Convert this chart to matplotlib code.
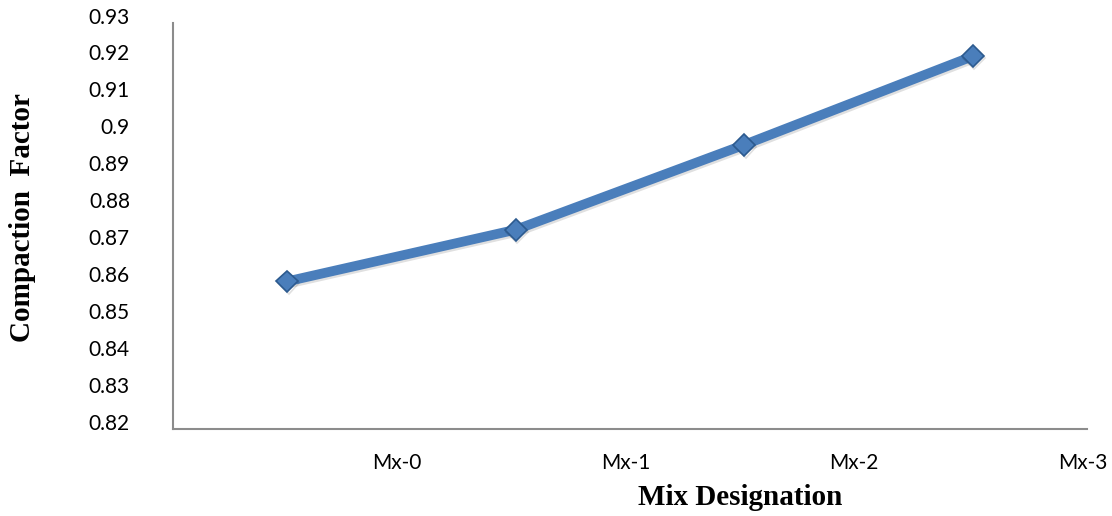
import matplotlib.pyplot as plt
import matplotlib.patheffects as pe
import matplotlib.transforms as mtransforms
import numpy as np

mixes = ["Mx-0", "Mx-1", "Mx-2", "Mx-3"]
compaction = [0.860, 0.874, 0.897, 0.921]
y_ticks = [0.82, 0.83, 0.84, 0.85, 0.86, 0.87, 0.88, 0.89, 0.9, 0.91, 0.92, 0.93]

fig = plt.figure(figsize=(11.12, 5.16), dpi=100)
ax = fig.add_axes([0.1556, 0.1686, 0.8219, 0.7868])

x = np.arange(len(mixes))
ax.plot(x, compaction, color="#4a7ebb", linewidth=7, solid_capstyle="butt",
        marker="D", markersize=11, markerfacecolor="#4a7ebb",
        markeredgecolor="#2c5a8f", markeredgewidth=1.2,
        path_effects=[pe.SimpleLineShadow(offset=(1, -1.5), alpha=0.12), pe.Normal()])

ax.set_xlim(-0.5, 3.5)
ax.set_yticks(y_ticks)
ax.set_yticklabels([f"{v:g}" for v in y_ticks], fontfamily="Lato", fontsize=15)
ax.set_ylim(0.82, 0.93)
ax.set_xticks(x + 0.48)
ax.set_xticklabels(mixes, fontfamily="Lato", fontsize=15)
ax.tick_params(axis="y", length=0, pad=31)
ax.tick_params(axis="x", length=0, pad=17)

# value labels sit a little above their gridline positions
lift = mtransforms.ScaledTranslation(0, 0.075, fig.dpi_scale_trans)
for tick in ax.yaxis.get_major_ticks():
    tick.label1.set_transform(tick.label1.get_transform() + lift)

for side in ["top", "right"]:
    ax.spines[side].set_visible(False)
for side in ["left", "bottom"]:
    ax.spines[side].set_color("#8c8c8c")
    ax.spines[side].set_linewidth(1.5)

fig.text(0.666, 0.035, "Mix Designation", fontfamily="Liberation Serif",
         fontweight="bold", fontsize=21, ha="center", va="center")
fig.text(0.02, 0.578, "Compaction  Factor", fontfamily="Liberation Serif",
         fontweight="bold", fontsize=21, ha="center", va="center", rotation=90)

fig.savefig("out.png", dpi=100)
